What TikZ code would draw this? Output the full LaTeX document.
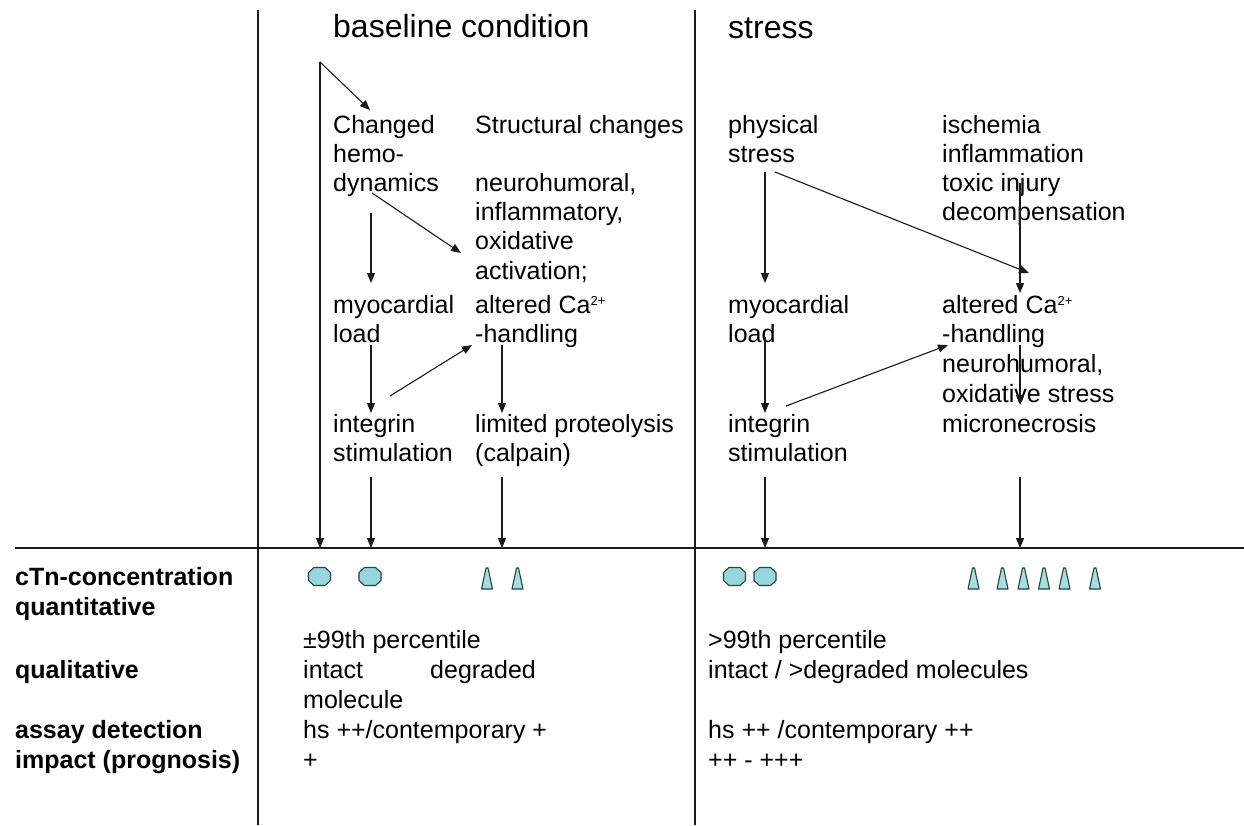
\documentclass[tikz,border=0pt]{standalone}
\usepackage{fontspec}
\setmainfont{Liberation Sans}
\usetikzlibrary{arrows.meta}
\definecolor{tnfill}{RGB}{152,214,222}
\definecolor{trfill}{RGB}{165,222,222}
\definecolor{tnedge}{RGB}{40,66,70}
\definecolor{ink}{RGB}{25,25,25}
\newcommand{\sups}{\raisebox{8pt}{\fontsize{13}{13}\selectfont 2+}}
\begin{document}
\begin{tikzpicture}[x=1pt,y=-1pt,
  lbl/.style={anchor=base west, inner sep=0pt, text=black, font=\fontsize{25}{29}\selectfont},
  hdr/.style={anchor=base west, inner sep=0pt, text=black, font=\fontsize{32}{36}\selectfont},
  blbl/.style={anchor=base west, inner sep=0pt, text=black, font=\fontsize{25}{29}\selectfont\bfseries},
  frame/.style={draw=ink, line width=1.1pt},
  arr/.style={draw=ink, line width=1.1pt, -{Triangle[length=10pt,width=8pt]}},
  octa/.style={draw=tnedge, fill=tnfill, line width=1.1pt, line join=round},
  tri/.style={draw=tnedge, fill=trfill, line width=1.1pt, line join=round}]
\useasboundingbox (0,0) rectangle (1244,825);

% frame lines
\coordinate (vlt) at (258,10); \coordinate (vlb) at (258,825);
\coordinate (vmt) at (695,10); \coordinate (vmb) at (695,825);
\coordinate (hl) at (15,548); \coordinate (hr) at (1244,548);
\draw[frame] (vlt) -- (vlb);
\draw[frame] (vmt) -- (vmb);
\draw[frame] (hl) -- (hr);

% headers
\node[hdr] (hbase) at (333,37) {baseline condition};
\node[hdr] (hstress) at (728,38) {stress};

% left block, column 1
\node[lbl] (chg1) at (333,133) {Changed};
\node[lbl] (chg2) at (333,162) {hemo-};
\node[lbl] (chg3) at (333,191) {dynamics};
\node[lbl] (myo1) at (333,313) {myocardial};
\node[lbl] (myo2) at (333,342) {load};
\node[lbl] (int1) at (333,432) {integrin};
\node[lbl] (int2) at (333,461) {stimulation};
% left block, column 2
\node[lbl] (str1) at (475,133) {Structural changes};
\node[lbl] (neu1) at (475,191) {neurohumoral,};
\node[lbl] (neu2) at (475,220) {inflammatory,};
\node[lbl] (neu3) at (475,249) {oxidative};
\node[lbl] (neu4) at (475,279) {activation;};
\node[lbl] (cal1) at (475,313) {altered Ca\sups};
\node[lbl] (cal2) at (475,342) {-handling};
\node[lbl] (pro1) at (475,432) {limited proteolysis};
\node[lbl] (pro2) at (475,461) {(calpain)};

% right block, column 1
\node[lbl] (phy1) at (728,133) {physical};
\node[lbl] (phy2) at (728,162) {stress};
\node[lbl] (rmyo1) at (728,313) {myocardial};
\node[lbl] (rmyo2) at (728,342) {load};
\node[lbl] (rint1) at (728,432) {integrin};
\node[lbl] (rint2) at (728,461) {stimulation};
% right block, column 2
\node[lbl] (isc1) at (942,133) {ischemia};
\node[lbl] (isc2) at (942,162) {inflammation};
\node[lbl] (isc3) at (942,191) {toxic injury};
\node[lbl] (isc4) at (942,220) {decompensation};
\node[lbl] (rcal1) at (942,313) {altered Ca\sups};
\node[lbl] (rcal2) at (942,342) {-handling};
\node[lbl] (rneu1) at (942,372) {neurohumoral,};
\node[lbl] (rneu2) at (942,402) {oxidative stress};
\node[lbl] (rmic) at (942,432) {micronecrosis};

% bottom row labels
\node[blbl] (b1) at (15,585) {cTn-concentration};
\node[blbl] (b2) at (15,615) {quantitative};
\node[blbl] (b3) at (15,678) {qualitative};
\node[blbl] (b4) at (15,738) {assay detection};
\node[blbl] (b5) at (15,768) {impact (prognosis)};

\node[lbl] (l1) at (303,648) {\char"00B1 99th percentile};
\node[lbl] (l2) at (303,678) {intact};
\node[lbl] (l2b) at (430,678) {degraded};
\node[lbl] (l3) at (303,708) {molecule};
\node[lbl] (l4) at (303,738) {hs ++/contemporary +};
\node[lbl] (l5) at (303,768) {+};

\node[lbl] (r1) at (708,648) {>99th percentile};
\node[lbl] (r2) at (708,678) {intact / >degraded molecules};
\node[lbl] (r4) at (708,738) {hs ++ /contemporary ++};
\node[lbl] (r5) at (708,768) {++ - +++};

% arrow end points, left
\coordinate (a0) at (320,62);
\coordinate (a0b) at (320,548);
\coordinate (a0d) at (370,110);
\coordinate (a3s) at (371,213); \coordinate (a3e) at (371,283);
\coordinate (a4s) at (372,193); \coordinate (a4e) at (461,253);
\coordinate (a5s) at (371,345); \coordinate (a5e) at (371,413);
\coordinate (a6s) at (390,396); \coordinate (a6e) at (472,345);
\coordinate (a7s) at (502,345); \coordinate (a7e) at (502,413);
\coordinate (a8s) at (371,477); \coordinate (a8e) at (371,548);
\coordinate (a9s) at (502,477); \coordinate (a9e) at (502,548);
\draw[arr] (a0) -- (a0b);
\draw[arr] (a0) -- (a0d);
\draw[arr] (a3s) -- (a3e);
\draw[arr] (a4s) -- (a4e);
\draw[arr] (a5s) -- (a5e);
\draw[arr] (a6s) -- (a6e);
\draw[arr] (a7s) -- (a7e);
\draw[arr] (a8s) -- (a8e);
\draw[arr] (a9s) -- (a9e);

% arrow end points, right
\coordinate (b1s) at (765,172); \coordinate (b1e) at (765,283);
\coordinate (b2s) at (775,172); \coordinate (b2e) at (1029,273);
\coordinate (b3s) at (1020,183); \coordinate (b3e) at (1020,293);
\coordinate (b4s) at (765,337); \coordinate (b4e) at (765,413);
\coordinate (b5s) at (786,406); \coordinate (b5e) at (948,345);
\coordinate (b6s) at (1020,345); \coordinate (b6e) at (1020,405);
\coordinate (b7s) at (765,477); \coordinate (b7e) at (765,548);
\coordinate (b8s) at (1020,477); \coordinate (b8e) at (1020,548);
\draw[arr] (b1s) -- (b1e);
\draw[arr] (b2s) -- (b2e);
\draw[arr] (b3s) -- (b3e);
\draw[arr] (b4s) -- (b4e);
\draw[arr] (b5s) -- (b5e);
\draw[arr] (b6s) -- (b6e);
\draw[arr] (b7s) -- (b7e);
\draw[arr] (b8s) -- (b8e);

% cTn symbols: intact molecules (octagons)
\foreach \n/\xx in {o1/319.5, o2/370, o3/734.5, o4/765}{
  \coordinate (\n) at (\xx,576.5);
  \draw[octa, shift={(\n)}] (-5.5,-9) -- (5.5,-9) -- (11,-4) -- (11,4) -- (5.5,9) -- (-5.5,9) -- (-11,4) -- (-11,-4) -- cycle;
}

% degraded fragments (triangles)
\foreach \n/\xx in {t1/487, t2/517.5, t3/973.5, t4/1002.5, t5/1023.5, t6/1044, t7/1064.5, t8/1095}{
  \coordinate (\n) at (\xx,578.5);
  \draw[tri, shift={(\n)}] (-5.5,10.5) -- (5.5,10.5) -- (1,-10.5) -- (-1,-10.5) -- cycle;
}
\end{tikzpicture}
\end{document}
